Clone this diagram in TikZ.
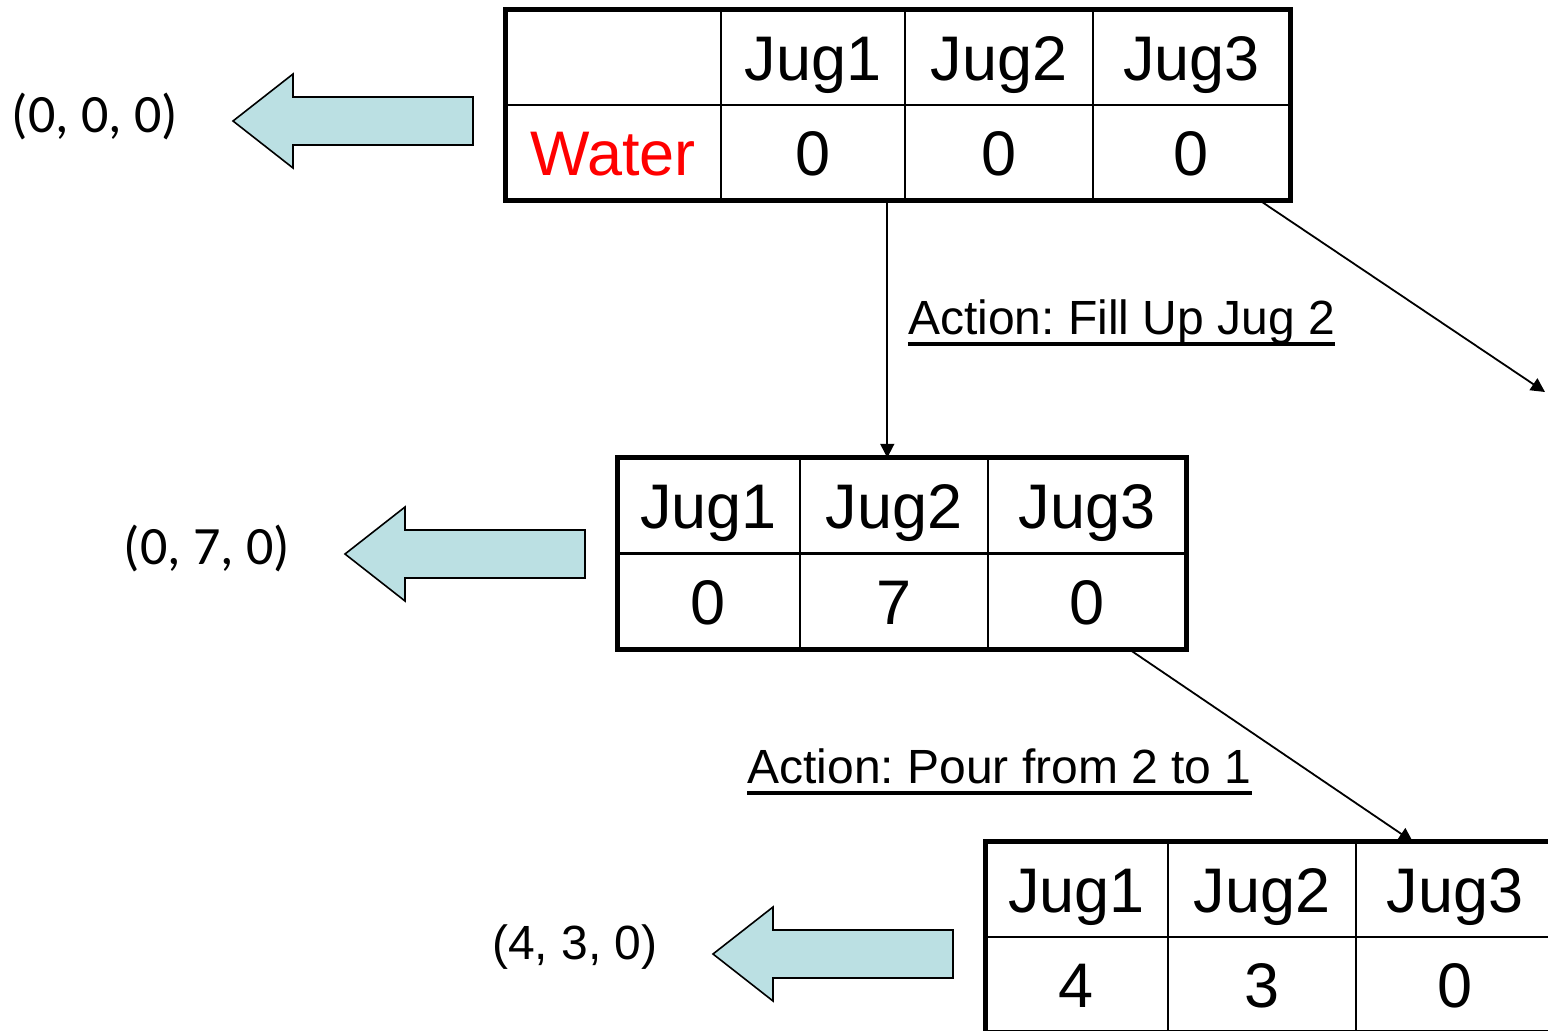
\documentclass[tikz,border=0pt]{standalone}
\usepackage{fontspec}
\setmainfont{Liberation Sans}
\newfontfamily\tuplefont{Carlito}
\usetikzlibrary{arrows.meta,positioning,calc}
\definecolor{jugcyan}{HTML}{BBE0E3}
\definecolor{jugred}{HTML}{FF0000}
\frenchspacing

\begin{document}
\begin{tikzpicture}[
    x=1pt, y=-1pt,
    cell/.style={
        rectangle,
        draw=black,
        line width=2pt,
        minimum height=95.5pt,
        inner sep=0pt,
        outer sep=0pt,
        font=\fontsize{63}{70}\selectfont,
        text height=45.5pt,
        text depth=0pt
    },
    frame/.style={
        draw=black,
        line width=5pt
    },
    link/.style={
        -{Triangle[length=14pt,width=14pt]},
        draw=black,
        line width=1.8pt
    },
    bigarrow/.style={
        draw=black,
        line width=1.6pt,
        fill=jugcyan
    },
    state/.style={
        inner sep=0pt,
        font=\tuplefont\fontsize{54}{60}\selectfont
    },
    action/.style={
        inner sep=0pt,
        font=\fontsize{48}{54}\selectfont
    },
    uline/.style={
        draw=black,
        line width=3.5pt
    }
]

\useasboundingbox (0,0) rectangle (1548,1031);
\clip (0,0) rectangle (1548,1031);
\fill[white] (0,0) rectangle (1548,1031);

% start state (0,0,0)
\foreach \i/\cx/\w/\head/\val in {1/613/216/{}/{\color{jugred}Water},
                                  2/813/184/Jug1/0,
                                  3/999/188/Jug2/0,
                                  4/1191.5/197/Jug3/0} {
    \node[cell, minimum width=\w pt] (s0h\i) at (\cx,57.5) {\head};
    \node[cell, minimum width=\w pt] (s0v\i) at (\cx,153) {\val};
}
\draw[frame] (s0h1.north west) rectangle (s0v4.south east);

% after filling jug 2
\foreach \i/\cx/\w/\head/\val in {1/708.5/183/Jug1/0,
                                  2/894/188/Jug2/7,
                                  3/1087/198/Jug3/0} {
    \node[cell, minimum width=\w pt] (s1h\i) at (\cx,505.5) {\head};
    \node[cell, minimum width=\w pt] (s1v\i) at (\cx,601.5) {\val};
}
\draw[frame] (s1h1.north west) rectangle (s1v3.south east);

% after pouring 2 into 1
\foreach \i/\cx/\w/\head/\val in {1/1076.5/183/Jug1/4,
                                  2/1262/188/Jug2/3,
                                  3/1455/198/Jug3/0} {
    \node[cell, minimum width=\w pt] (s2h\i) at (\cx,889.5) {\head};
    \node[cell, minimum width=\w pt] (s2v\i) at (\cx,985) {\val};
}
\draw[frame] (s2h1.north west) rectangle (s2v3.south east);

% fat arrows pointing at the tuples
\foreach \tx/\ty in {233/121, 345/554, 713/954}
    \draw[bigarrow] (\tx,\ty) -- ++(60,-47) -- ++(0,23) -- ++(180,0)
        -- ++(0,48) -- ++(-180,0) -- ++(0,23) -- cycle;

\node[state] (t0) at (95,116) {(0, 0, 0)};
\node[state] (t1) at (207,548) {(0, 7, 0)};
\node[state, font=\fontsize{48}{54}\selectfont] (t2) at (575,947) {(4, 3, 0)};

% moves between states
\coordinate (drop) at ($(s1h1.north west)!0.475!(s1h3.north east)$);
\coordinate (next) at (1545,392);
\draw[link] (s0v1.south -| drop) -- (drop);
\draw[link] ($(s0v1.south west)!0.962!(s0v4.south east)$) -- (next);
\draw[link] ($(s1v1.south west)!0.9!(s1v3.south east)$)
    -- ($(s2h1.north west)!0.752!(s2h3.north east)$);

\node[action, anchor=base] (a1) at (1121.5,334) {Action: Fill Up Jug 2};
\draw[uline] ([yshift=-10pt]a1.base west) -- ([yshift=-10pt]a1.base east);

\node[action, anchor=base] (a2) at (999.5,783) {Action: Pour from 2 to 1};
\draw[uline] ([yshift=-10pt]a2.base west) -- ([yshift=-10pt]a2.base east);

\end{tikzpicture}
\end{document}
